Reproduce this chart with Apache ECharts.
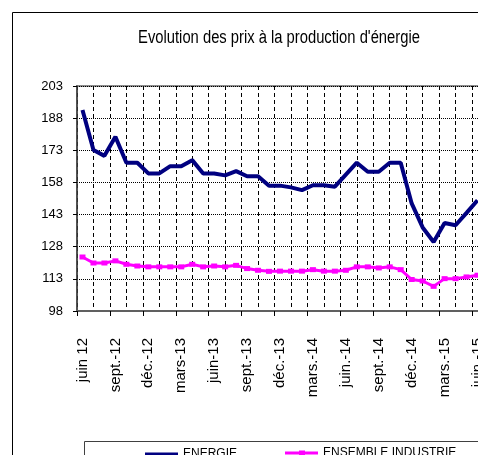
<!doctype html>
<html>
	<head>
		<meta charset="UTF-8">
		<title>Evolution des prix à la production d'énergie</title>
		<style>
			html, body {
				margin: 0;
				padding: 0;
				background: #fff;
			}
			#chart {
				width: 478px;
				height: 455px;
			}
		</style>
	</head>
	<body>
		<div id="chart"></div>
		<script src="https://cdn.jsdelivr.net/npm/echarts@6.0.0/dist/echarts.min.js"></script>
		<script type="text/javascript">
			var FONT = "'Liberation Sans', Arial, sans-serif";

			// mois, juin 2012 -> juin 2015
			var months = ['juin 12', 'juil.-12', 'août-12', 'sept.-12', 'oct.-12', 'nov.-12', 'déc.-12',
				'janv.-13', 'févr.-13', 'mars-13', 'avr.-13', 'mai-13', 'juin-13', 'juil.-13', 'août-13',
				'sept.-13', 'oct.-13', 'nov.-13', 'déc.-13', 'janv.-14', 'févr.-14', 'mars.-14', 'avr.-14',
				'mai-14', 'juin.-14', 'juil.-14', 'août-14', 'sept.-14', 'oct.-14', 'nov.-14', 'déc.-14',
				'janv.-15', 'févr.-15', 'mars.-15', 'avr.-15', 'mai-15', 'juin.-15'];

			var energie = [191.8, 173.1, 170.4, 179.3, 167.2, 167.2, 162.2, 162.2, 165.6, 165.6, 168.4, 162.2,
				162.2, 161.3, 163.3, 160.9, 160.9, 156.5, 156.5, 155.7, 154.4, 156.7, 156.7, 156.0,
				161.6, 167.2, 163.0, 163.0, 167.2, 167.2, 148.2, 137.0, 130.2, 139.1, 138.0, 143.8, 149.7];

			var industrie = [123.2, 120.4, 120.4, 121.4, 119.8, 119.0, 118.6, 118.6, 118.6, 118.6, 119.8, 118.6,
				119.0, 118.6, 119.3, 117.8, 117.0, 116.5, 116.6, 116.6, 116.6, 117.3, 116.6, 116.6,
				117.0, 118.6, 118.6, 118.1, 118.6, 117.3, 112.7, 112.0, 109.5, 113.1, 113.1, 113.9, 114.7];

			var yTicks = [98, 113, 128, 143, 158, 173, 188, 203];
			var Y_STEP = 15;
			var Y_BASE = yTicks[0];	// l'axe part de 98, on décale pour que les graduations tombent juste

			function shift(arr) {
				return arr.map(function(v) { return +(v - Y_BASE).toFixed(2); });
			}

			var chart = echarts.init(document.getElementById('chart'), null, { renderer: 'canvas' });

			var legendText = { fontFamily: FONT, fontSize: 12, color: '#000' };

			var option = {
				animation: false,
				backgroundColor: '#ffffff',
				textStyle: { fontFamily: FONT },
				grid: {
					left: 77,
					right: -5,
					top: 86,
					bottom: 144,
					show: true,
					borderColor: '#8c8c8c',
					borderWidth: 2,
					backgroundColor: '#ffffff',
					outerBoundsMode: 'none'
				},
				legend: [{
					data: [{ name: 'ENERGIE', icon: 'rect' }],
					left: 140,
					top: 443,
					itemWidth: 33,
					itemHeight: 3,
					itemGap: 4,
					textStyle: legendText
				}, {
					data: [{ name: 'ENSEMBLE INDUSTRIE', icon: 'path://M0,1 L14,1 L14,0 L20,0 L20,1 L33,1 L33,4 L20,4 L20,5 L14,5 L14,4 L0,4 Z' }],
					left: 280,
					top: 442,
					itemWidth: 33,
					itemHeight: 5,
					itemGap: 4,
					textStyle: legendText
				}],
				xAxis: [{
					type: 'category',
					data: months,
					boundaryGap: true,
					axisLine: { lineStyle: { color: '#606060', width: 2 } },
					axisTick: { show: true, interval: 2, length: 5, lineStyle: { color: '#000' } },
					axisLabel: {
						interval: 2,
						rotate: 90,
						margin: 27,
						fontFamily: FONT,
						fontSize: 15,
						color: '#000'
					},
					splitLine: { show: false }
				}, {
					// grille verticale tous les mois et demi
					type: 'value',
					position: 'top',
					min: 0,
					max: months.length,
					interval: 1.5,
					axisLine: { show: false },
					axisTick: { show: false },
					axisLabel: { show: false },
					splitLine: { show: true, lineStyle: { color: '#000', width: 1, type: [4, 3] } }
				}],
				yAxis: {
					type: 'value',
					min: 0,
					max: yTicks[yTicks.length - 1] - Y_BASE,
					interval: Y_STEP,
					axisLine: { show: true, lineStyle: { color: '#404040', width: 1.5 } },
					axisTick: { show: true, length: 4, lineStyle: { color: '#000' } },
					axisLabel: {
						margin: 14,
						fontFamily: FONT,
						fontSize: 13,
						color: '#000',
						formatter: function(v) { return String(v + Y_BASE); }
					},
					splitLine: { show: true, lineStyle: { color: '#000', width: 1, type: [1, 1] } }
				},
				graphic: [{
					type: 'rect',
					z: -10,
					shape: { x: 12.5, y: 12.5, width: 700, height: 700 },
					style: { fill: 'none', stroke: '#000', lineWidth: 1 }
				}, {
					type: 'rect',
					z: -10,
					shape: { x: 84.5, y: 441.5, width: 600, height: 60 },
					style: { fill: 'none', stroke: '#404040', lineWidth: 1 }
				}, {
					type: 'text',
					x: 279,
					y: 38,
					scaleX: 0.82,
					style: {
						text: "Evolution des prix à la production d'énergie",
						fontFamily: FONT,
						fontSize: 18,
						fill: '#000',
						align: 'center',
						verticalAlign: 'middle'
					}
				}],
				series: [{
					name: 'ENERGIE',
					type: 'line',
					xAxisIndex: 0,
					data: shift(energie),
					symbol: 'none',
					lineStyle: { color: '#000080', width: 4 },
					itemStyle: { color: '#000080' },
					z: 3
				}, {
					name: 'ENSEMBLE INDUSTRIE',
					type: 'line',
					xAxisIndex: 0,
					data: shift(industrie),
					symbol: 'rect',
					symbolSize: [6, 5],
					showSymbol: true,
					lineStyle: { color: '#ff00ff', width: 3 },
					itemStyle: { color: '#ff00ff' },
					z: 2
				}]
			};

			chart.setOption(option);
		</script>
	</body>
</html>
